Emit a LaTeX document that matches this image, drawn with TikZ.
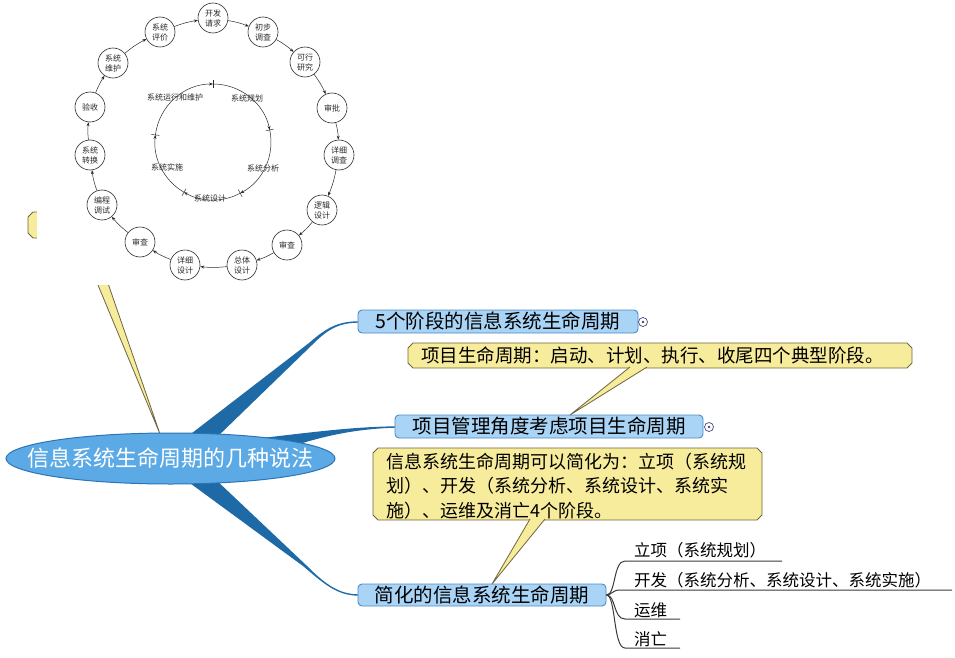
\documentclass[tikz,border=0pt]{standalone}
\usepackage{fontspec}
\setmainfont{Noto Sans CJK SC}
\usetikzlibrary{arrows.meta,shapes.geometric,calc,backgrounds}
\definecolor{branchblue}{HTML}{1D6AA6}
\definecolor{nodeblue}{HTML}{A9D4F6}
\definecolor{nodeborder}{HTML}{4A8AC6}
\definecolor{ellfill}{HTML}{5BAAE6}
\definecolor{ellborder}{HTML}{2E74B5}
\definecolor{callfill}{HTML}{F7EC9B}
\definecolor{callborder}{HTML}{6E6640}
\definecolor{sublinecol}{HTML}{3A3A3A}
\definecolor{ringcol}{HTML}{2A2A2A}
\newcommand\chamfbox[4]{%
  \filldraw[callout] ({#1+5},{-#2}) -- ({#3-5},{-#2}) -- ({#3},{-#2-5}) -- ({#3},{-#4+5}) --
  ({#3-5},{-#4}) -- ({#1+5},{-#4}) -- ({#1},{-#4+5}) -- ({#1},{-#2-5}) -- cycle;}
\tikzset{
  topic/.style={draw=nodeborder, fill=nodeblue, rounded corners=4pt, line width=0.9pt,
    inner sep=0pt, font=\fontsize{19.5}{20}\selectfont, text=black},
  central/.style={ellipse, draw=ellborder, fill=ellfill, line width=1pt, inner sep=0pt},
  centraltext/.style={inner sep=0pt, text=white, font=\fontsize{22}{24}\selectfont},
  ring/.style={circle, draw=ringcol, line width=0.6pt, minimum size=30pt, inner sep=0pt,
    align=center, fill=white, text=ringcol, font=\fontsize{8}{10}\selectfont},
  ringarrow/.style={draw=ringcol, line width=0.5pt, -{Stealth[length=4pt,width=3pt]}},
  innerarc/.style={draw=ringcol, line width=0.5pt, -{Stealth[length=4pt,width=3pt]}},
  innertick/.style={draw=ringcol, line width=0.5pt},
  innerlabel/.style={inner sep=0pt, text=ringcol, font=\fontsize{8}{10}\selectfont},
  callout/.style={fill=callfill, draw=callborder, line width=0.8pt},
  calltext/.style={anchor=west, inner sep=0pt, font=\fontsize{18.5}{20}\selectfont},
  subtext/.style={anchor=west, inner sep=0pt, font=\fontsize{16.5}{18}\selectfont},
  subline/.style={draw=sublinecol, line width=1pt},
  branch/.style={fill=branchblue},
  marker/.style={circle, draw=gray!70!blue!80!black, fill=white, line width=0.7pt, minimum size=9pt, inner sep=0pt}
}
\begin{document}
\begin{tikzpicture}[x=1pt,y=1pt]
\useasboundingbox (0,0) rectangle (955,-658);
% hidden callout behind picture
\chamfbox{28}{212}{320}{238}
\filldraw[callout] (78,-237) -- (160,-434) -- (92,-237);
% white picture area
\fill[white] (37,1) rectangle (376,-285);
% outer ring
\node[ring] (c1) at (213,-18) {开发\\请求};
\node[ring] (c2) at (263,-32) {初步\\调查};
\node[ring] (c3) at (305,-62) {可行\\研究};
\node[ring] (c4) at (332,-108) {审批};
\node[ring] (c5) at (339,-155) {详细\\调查};
\node[ring] (c6) at (322,-210) {逻辑\\设计};
\node[ring] (c7) at (287,-245) {审查};
\node[ring] (c8) at (242,-265) {总体\\设计};
\node[ring] (c9) at (185,-265) {详细\\设计};
\node[ring] (c10) at (140,-242) {审查};
\node[ring] (c11) at (102,-205) {编程\\调试};
\node[ring] (c12) at (90,-155) {系统\\转换};
\node[ring] (c13) at (90,-107) {验收};
\node[ring] (c14) at (113,-63) {系统\\维护};
\node[ring] (c15) at (160,-32) {系统\\评价};
\foreach \a/\b in {1/2,2/3,3/4,4/5,5/6,6/7,7/8,8/9,9/10,10/11,11/12,12/13,13/14,14/15,15/1}
  \draw[ringarrow] (c\a) to[bend left=6] (c\b);
% inner circle
\coordinate (ic) at (213,-142);
\foreach \a/\b in {90/12, 12/-62, -62/-120, -120/-187, -187/-270}
  \draw[innerarc] ($(ic)+(\a:58)$) arc[start angle=\a, end angle=\b, radius=58];
\foreach \a in {90,12,-62,-120,173}
  \draw[innertick] ($(ic)+(\a:54)$) -- ($(ic)+(\a:62)$);
\node[innerlabel] (l1) at (247,-98) {系统规划};
\node[innerlabel] (l2) at (263,-168) {系统分析};
\node[innerlabel] (l3) at (210,-198) {系统设计};
\node[innerlabel] (l4) at (167,-167) {系统实施};
\node[innerlabel] (l5) at (175,-97) {系统运行和维护};
% central topic
\node[central, minimum width=329pt, minimum height=51pt] (root) at (170.5,-458.5) {};
\node[centraltext] (roottext) at (root.center) {信息系统生命周期的几种说法};
% main topics
\node[topic, minimum width=280pt, minimum height=23pt] (t1) at (498,-321.5) {5个阶段的信息系统生命周期};
\node[topic, minimum width=308pt, minimum height=23pt] (t2) at (549,-426.5) {项目管理角度考虑项目生命周期};
\node[topic, minimum width=248pt, minimum height=22pt] (t3) at (482,-595) {简化的信息系统生命周期};
\node[marker] (m1) at (643,-322) {};
\fill[gray!60!black] (m1) circle (1.4pt);
\node[marker] (m2) at (709,-427) {};
\fill[gray!60!black] (m2) circle (1.4pt);
% branches
\begin{pgfonlayer}{background}
\fill[branch] (183,-440) -- (309,-343) .. controls (326,-328) and (338,-321.3) .. ($(t1.west)+(1,0.2)$)
  -- ($(t1.west)+(1,-1.2)$) .. controls (338,-322.7) and (327,-330) .. (312,-345) -- (214,-440) -- cycle;
\fill[branch] (235,-441) .. controls (300,-434) and (345,-427) .. ($(t2.west)+(1,0.2)$)
  -- ($(t2.west)+(1,-1.2)$) .. controls (350,-429) and (315,-438) .. (275,-452) -- cycle;
\fill[branch] (183,-478) -- (303,-566) .. controls (322,-582) and (336,-595.7) .. ($(t3.west)+(1,-0.7)$)
  -- ($(t3.west)+(1,0.7)$) .. controls (338,-594.3) and (324,-583) .. (306,-565) -- (214,-478) -- cycle;
\end{pgfonlayer}
% callout 1
\chamfbox{408}{343}{912}{368}
\filldraw[callout] (630,-367) -- (570,-415) -- (647,-367);
\node[calltext] (k1) at (421,-355.5) {项目生命周期：启动、计划、执行、收尾四个典型阶段。};
% callout 2
\chamfbox{373}{448}{762}{520}
\filldraw[callout] (530,-519) -- (492,-584) -- (545,-519);
\node[calltext, font=\fontsize{18}{20}\selectfont] (k2a) at (386,-461.5) {信息系统生命周期可以简化为：立项（系统规};
\node[calltext, font=\fontsize{18}{20}\selectfont] (k2b) at (386,-486) {划）、开发（系统分析、系统设计、系统实};
\node[calltext, font=\fontsize{18}{20}\selectfont] (k2c) at (386,-510.5) {施）、运维及消亡4个阶段。};
% sub items
\coordinate (u1) at (782,-561);
\coordinate (u2) at (952,-590);
\coordinate (u3) at (680,-619);
\coordinate (u4) at (680,-648);
\draw[subline] (t3.east) .. controls (616,-595) and (613,-561) .. (625,-561) -- (u1);
\draw[subline] (t3.east) .. controls (612,-595) and (612,-590) .. (620,-590) -- (u2);
\draw[subline] (t3.east) .. controls (616,-595) and (613,-619) .. (625,-619) -- (u3);
\draw[subline] (t3.east) .. controls (616,-595) and (613,-648) .. (625,-648) -- (u4);
\node[subtext] (s1) at (634,-550.5) {立项（系统规划）};
\node[subtext] (s2) at (634,-580.5) {开发（系统分析、系统设计、系统实施）};
\node[subtext] (s3) at (634,-610.5) {运维};
\node[subtext] (s4) at (634,-639) {消亡};
\end{tikzpicture}
\end{document}
